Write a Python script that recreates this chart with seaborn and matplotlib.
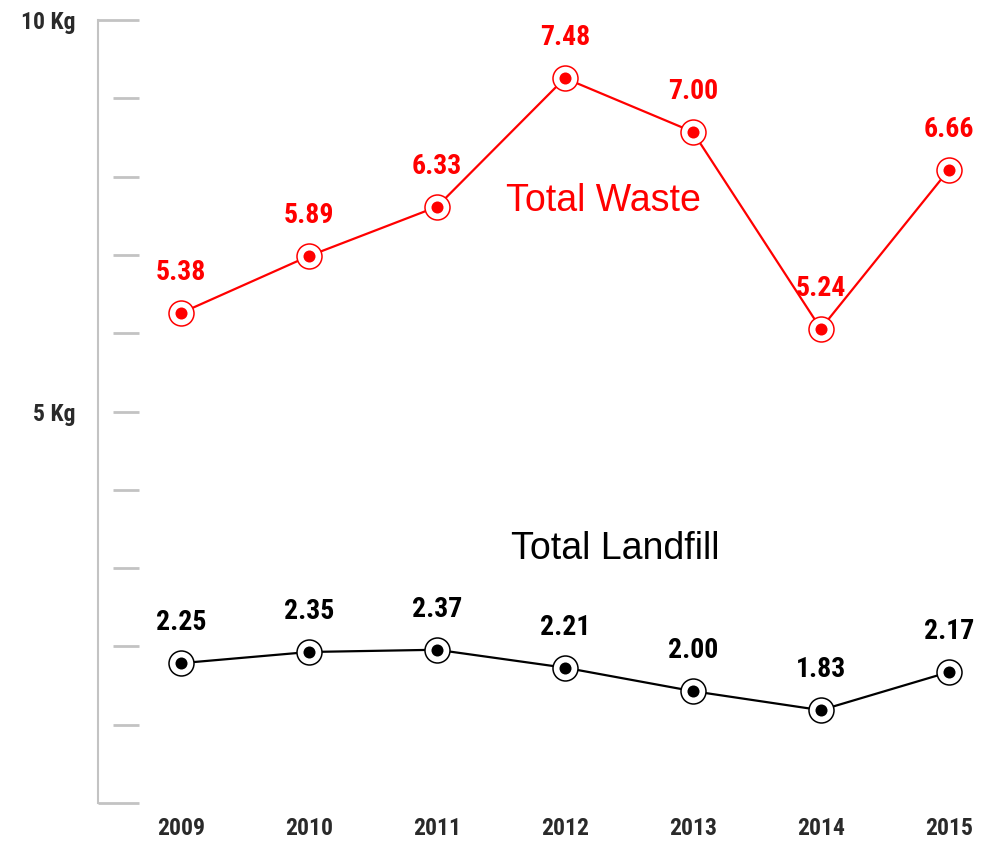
import numpy as np
import pandas as pd
import seaborn as sns
import matplotlib.pyplot as plt

years = ['2009', '2010', '2011', '2012', '2013', '2014', '2015']
total_waste = [5.38, 5.89, 6.33, 7.48, 7.00, 5.24, 6.66]
total_landfill = [2.25, 2.35, 2.37, 2.21, 2.00, 1.83, 2.17]
axis_ticks = np.linspace(1, 8, 11)
axis_labels = {4.5: '5 Kg', 8.0: '10 Kg'}

RED = '#ff0000'
BLACK = '#000000'
GREY = '#c3c3c3'
NARROW = ['Roboto Condensed', 'Barlow Condensed', 'DejaVu Sans']
PLAIN = ['Liberation Sans', 'DejaVu Sans']

sns.set_style('white')

df = pd.DataFrame({'pos': np.arange(len(years)), 'year': years,
                   'waste': total_waste, 'landfill': total_landfill})

fig = plt.figure(figsize=(9.91, 8.41), dpi=100)
ax = fig.add_axes([98 / 991, 38 / 841, 893 / 991, 783 / 841])


def draw_series(col, color):
    sns.lineplot(data=df, x='pos', y=col, color=color, lw=1.6, marker='o',
                 markersize=18, markerfacecolor='white', markeredgecolor=color,
                 markeredgewidth=1.1, ax=ax, zorder=3)
    sns.scatterplot(data=df, x='pos', y=col, color=color, s=75, linewidth=0,
                    ax=ax, zorder=4)
    for x, v in zip(df['pos'], df[col]):
        ax.annotate(f'{v:.2f}', (x, v), xytext=(0, 29), textcoords='offset points',
                    ha='center', va='center', color=color, fontsize=20,
                    fontweight='bold', family=NARROW)


draw_series('waste', RED)
draw_series('landfill', BLACK)

ax.text(3.30, 6.38, 'Total Waste', color=RED, fontsize=27, ha='center',
        va='center', family=PLAIN)
ax.text(3.39, 3.27, 'Total Landfill', color=BLACK, fontsize=27, ha='center',
        va='center', family=PLAIN)

ax.set_xlim(-0.648, 6.33)
ax.set_ylim(1, 8)

# gauge-style marks on the left
for i, t in enumerate(axis_ticks):
    start = 0 if i in (0, len(axis_ticks) - 1) else 15 / 893
    ax.axhline(t, xmin=start, xmax=41 / 893, color=GREY, lw=2.0,
               solid_capstyle='butt', clip_on=False, zorder=1)

for side in ['top', 'right', 'bottom']:
    ax.spines[side].set_visible(False)
ax.spines['left'].set_color(GREY)
ax.spines['left'].set_linewidth(1.5)

ax.set_xticks(df['pos'], labels=years)
ax.set_yticks(list(axis_labels.keys()), labels=list(axis_labels.values()))
ax.tick_params(axis='x', length=0, pad=10, labelsize=17, labelcolor='#2a2a2a')
ax.tick_params(axis='y', length=0, pad=16, labelsize=17, labelcolor='#2a2a2a')
for lab in ax.get_xticklabels() + ax.get_yticklabels():
    lab.set_fontweight('bold')
    lab.set_family(NARROW)

ax.set_xlabel('')
ax.set_ylabel('')
ax.grid(False)

fig.savefig('out.png', dpi=100)
